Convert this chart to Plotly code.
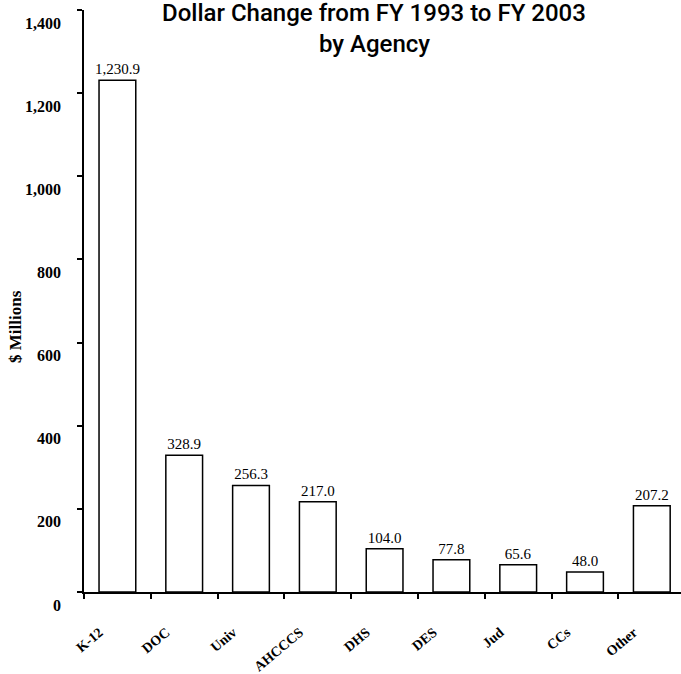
import plotly.graph_objects as go

agencies = ["K-12", "DOC", "Univ", "AHCCCS", "DHS", "DES", "Jud", "CCs", "Other"]
changes = [1230.9, 328.9, 256.3, 217.0, 104.0, 77.8, 65.6, 48.0, 207.2]
y_ticks = [0, 200, 400, 600, 800, 1000, 1200, 1400]
title_lines = ["Dollar Change from FY 1993 to FY 2003", "by Agency"]

serif = "Liberation Serif, Times New Roman, serif"
title_font = "Roboto, Liberation Sans, sans-serif"


def py(p):
    # pixel row -> paper y (plot spans rows 10..592)
    return (592 - p) / 582


fig = go.Figure(go.Bar(
    x=agencies,
    y=changes,
    width=0.55,
    marker=dict(color="white", line=dict(color="black", width=1.5)),
    texttemplate="%{y:,.1f}",
    textposition="outside",
    constraintext="none",
    textfont=dict(family=serif, size=15, color="black"),
    cliponaxis=False,
    hoverinfo="skip",
))

fig.update_layout(
    width=681, height=674,
    margin=dict(l=84, r=0, t=10, b=82, autoexpand=False),
    paper_bgcolor="white", plot_bgcolor="white",
    showlegend=False,
    xaxis=dict(
        range=[-0.5, 8.437],
        automargin=False,
        showline=True, linecolor="black", linewidth=1.5,
        ticks="outside", tickson="boundaries", ticklen=5, tickcolor="black", tickwidth=1.5,
        tickangle=-40,
        tickfont=dict(family=serif, size=14, color="black", weight="bold"),
        ticklabelstandoff=25,
        ticklabelshift=-18,
        ticklabeloverflow="allow",
        showgrid=False, zeroline=False,
    ),
    yaxis=dict(
        range=[0, 1400],
        automargin=False,
        tickvals=y_ticks,
        tickformat=",d",
        showline=True, linecolor="black", linewidth=1.5,
        ticks="outside", ticklen=5, tickcolor="black", tickwidth=1.5,
        tickfont=dict(family=serif, size=16, color="black", weight="bold"),
        ticklabelstandoff=13,
        ticklabelshift=13,
        ticklabeloverflow="allow",
        showgrid=False, zeroline=False,
    ),
    annotations=[
        dict(
            text=title_lines[0],
            font=dict(family=title_font, size=24, color="black", weight=500),
            xref="paper", yref="paper",
            x=(374 - 84) / 597, y=py(13),
            xanchor="center", yanchor="middle",
            showarrow=False,
        ),
        dict(
            text=title_lines[1],
            font=dict(family=title_font, size=24, color="black", weight=500),
            xref="paper", yref="paper",
            x=(374 - 84) / 597, y=py(44),
            xanchor="center", yanchor="middle",
            showarrow=False,
        ),
        dict(
            text="$ Millions",
            textangle=-90,
            font=dict(family=serif, size=17, color="black", weight="bold"),
            xref="paper", yref="paper",
            x=0, y=py(327),
            xshift=-69, xanchor="center", yanchor="middle",
            showarrow=False,
        ),
    ],
)

fig.write_html("out.html", config={"displayModeBar": False},
               post_script="document.body.style.margin='0px';")
